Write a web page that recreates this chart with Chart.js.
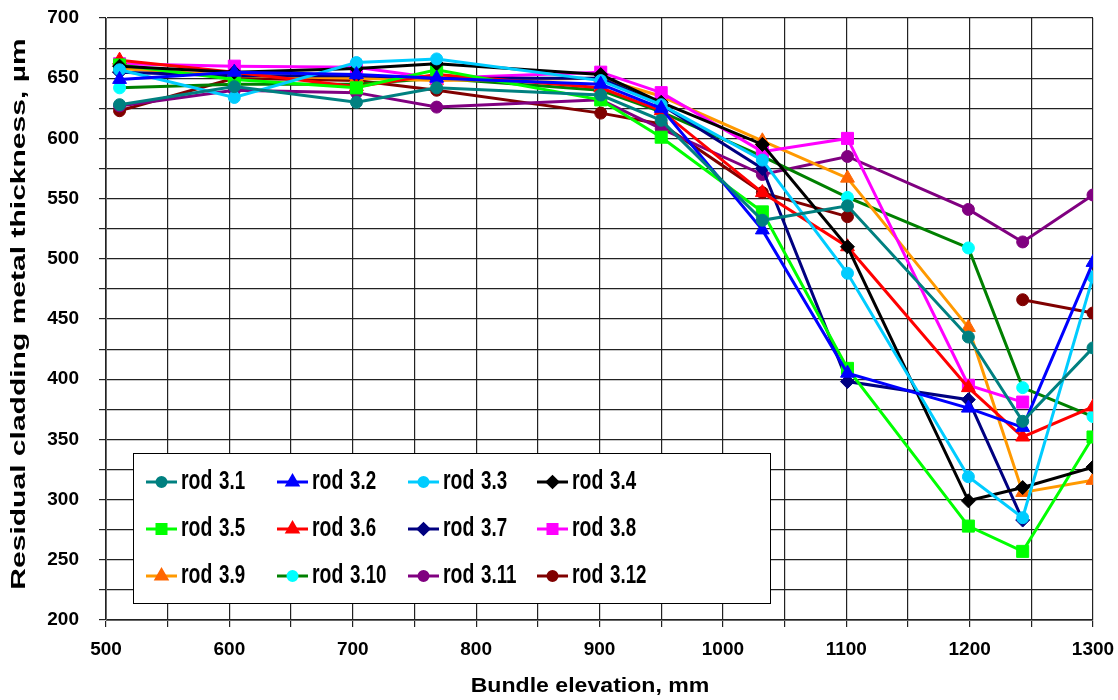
<!DOCTYPE html>
<html>
<head>
<meta charset="utf-8">
<script src="https://cdn.jsdelivr.net/npm/chart.js@4/dist/chart.umd.min.js"></script>
<style>
  html, body { margin: 0; padding: 0; background: #fff; }
  #wrap { width: 1118px; height: 700px; }
</style>
</head>
<body>
<div id="wrap"><canvas id="rodChart" width="1118" height="700"></canvas></div>
<script>
// Bundle elevations (mm) where the rods were measured
const elevations = [511, 604, 703, 768, 901, 950, 1032, 1101, 1199, 1243, 1300];

// Residual cladding metal thickness (um) per rod
const rod31 = [628, 643, 630, 642, 636, 615, 532, 544, 435, 365, 426];
const rod32 = [649, 655, 653, 650, 645, 625, 524, 405, 376, 360, 497];
const rod33 = [657, 634, 663, 666, 648, 628, 582, 488, 319, 285, 485];
const rod34 = [660, 655, 658, 662, 653, 630, 595, 510, 299, 310, 327];
const rod35 = [661, 649, 642, 657, 632, 601, 539, 409, 278, 257, 352];
const rod36 = [665, 655, 643, 653, 642, 623, 555, 510, 393, 352, 377];
const rod37 = [655, 652, 652, 650, 650, 628, 575, 398, 383, 283, null];
const rod38 = [662, 660, 659, 650, 655, 638, 589, 600, 395, 381, null];
const rod39 = [658, 652, 650, 648, 650, 635, 598, 567, 443, 306, 316];
const rod310 = [642, 645, 645, 650, 640, 622, 585, 551, 509, 393, 369];
const rod311 = [627, 640, 638, 626, 632, 608, 570, 585, 541, 514, 553];
const rod312 = [623, 650, 648, 640, 621, 612, 555, 535, null, 466, 455];

const rodNames = ["3.1", "3.2", "3.3", "3.4", "3.5", "3.6", "3.7", "3.8", "3.9", "3.10", "3.11", "3.12"];
const rodValues = [rod31, rod32, rod33, rod34, rod35, rod36, rod37, rod38, rod39, rod310, rod311, rod312];

// Axis tick labels
const xTickLabels = [500, 600, 700, 800, 900, 1000, 1100, 1200, 1300];
const yTickLabels = [200, 250, 300, 350, 400, 450, 500, 550, 600, 650, 700];

// line colour, marker colour, marker shape, marker radius
const styles = [
  ["#008080", "#008080", "circle", 6],
  ["#0000ff", "#0000ff", "triangle", 8],
  ["#00ccff", "#00ccff", "circle", 6],
  ["#000000", "#000000", "rectRot", 7],
  ["#00ff00", "#00ff00", "rect", 8.5],
  ["#ff0000", "#ff0000", "triangle", 8],
  ["#000080", "#000080", "rectRot", 7],
  ["#ff00ff", "#ff00ff", "rect", 8.5],
  ["#ff9900", "#ff6600", "triangle", 8],
  ["#008000", "#00ffff", "circle", 6],
  ["#800080", "#800080", "circle", 6],
  ["#800000", "#800000", "circle", 6],
];

const datasets = rodNames.map((name, i) => ({
  label: "rod " + name,
  data: rodValues[i].map((v, j) => ({ x: elevations[j], y: v })),
  borderColor: styles[i][0],
  backgroundColor: styles[i][1],
  pointBackgroundColor: styles[i][1],
  pointBorderColor: styles[i][1],
  pointStyle: styles[i][2],
  pointRadius: styles[i][3],
  pointBorderWidth: 1,
  borderWidth: 3,
  tension: 0,
  spanGaps: false,
}));

// draw text squeezed/stretched horizontally
function stretchedText(ctx, text, x, y, size, sx, angle, align) {
  ctx.save();
  ctx.translate(x, y);
  if (angle) ctx.rotate(angle);
  ctx.scale(sx, 1);
  ctx.font = "bold " + size + "px 'Liberation Sans', Arial, sans-serif";
  ctx.fillStyle = "#000";
  ctx.textAlign = align || "center";
  ctx.textBaseline = "middle";
  ctx.fillText(text, 0, 0);
  ctx.restore();
}

const decorPlugin = {
  id: "decor",
  afterDraw(chart) {
    const ctx = chart.ctx;
    // axis titles
    stretchedText(ctx, "Residual cladding metal thickness, \u00b5m", 19, 314, 21, 1.43, -Math.PI / 2);
    stretchedText(ctx, "Bundle elevation, mm", 590, 686, 21, 1.1, 0);

    // legend box inside the plot
    const bx = 133, by = 453, bw = 637, bh = 150;
    ctx.save();
    ctx.fillStyle = "#fff";
    ctx.fillRect(bx, by, bw, bh);
    ctx.strokeStyle = "#000";
    ctx.lineWidth = 1;
    ctx.strokeRect(bx + 0.5, by + 0.5, bw, bh);
    ctx.restore();

    const colX = [146, 277, 408, 537];
    const rowY = [482, 529, 576];
    rodNames.forEach((name, i) => {
      const cx = colX[i % 4], cy = rowY[Math.floor(i / 4)];
      const st = styles[i];
      ctx.save();
      ctx.strokeStyle = st[0];
      ctx.lineWidth = 3;
      ctx.beginPath();
      ctx.moveTo(cx, cy);
      ctx.lineTo(cx + 31, cy);
      ctx.stroke();
      ctx.fillStyle = st[1];
      ctx.strokeStyle = st[1];
      Chart.helpers.drawPoint(ctx, { pointStyle: st[2], radius: st[3] * 0.75, borderWidth: 1, rotation: 0 }, cx + 15.5, cy);
      ctx.restore();
      stretchedText(ctx, "rod", cx + 35, cy, 27, 0.72, 0, "left");
      stretchedText(ctx, name, cx + 73, cy, 25, 0.75, 0, "left");
    });
  },
};

new Chart(document.getElementById("rodChart"), {
  type: "line",
  data: { datasets: datasets },
  plugins: [decorPlugin],
  options: {
    responsive: false,
    animation: false,
    layout: { padding: { top: 18, right: 25, left: 0, bottom: 0 } },
    plugins: { legend: { display: false }, tooltip: { enabled: false } },
    scales: {
      x: {
        type: "linear",
        min: 500,
        max: 1300,
        afterBuildTicks(scale) {
          const t = [];
          for (let v = 500; v <= 1300; v += 50) t.push({ value: v });
          scale.ticks = t;
        },
        afterFit(scale) {
          scale.height = 80;
          scale.paddingLeft = 0;
          scale.paddingRight = 0;
        },
        ticks: {
          autoSkip: false,
          maxRotation: 0,
          padding: 11,
          color: "#000",
          font: { family: "'Liberation Sans', Arial, sans-serif", size: 19, weight: "bold" },
          callback: (v) => (xTickLabels.includes(v) ? String(v) : ""),
        },
        grid: { color: "#222", lineWidth: 1.2, tickLength: 7 },
        border: { color: "#666", width: 1 },
      },
      y: {
        min: 200,
        max: 700,
        afterBuildTicks(scale) {
          const t = [];
          for (let v = 200; v <= 700; v += 25) t.push({ value: v });
          scale.ticks = t;
        },
        afterFit(scale) {
          scale.width = 106;
          scale.paddingTop = 0;
          scale.paddingBottom = 0;
        },
        ticks: {
          autoSkip: false,
          padding: 20,
          color: "#000",
          font: { family: "'Liberation Sans', Arial, sans-serif", size: 19, weight: "bold" },
          callback: (v) => (yTickLabels.includes(v) ? String(v) : ""),
        },
        grid: { color: "#222", lineWidth: 1.2, tickLength: 7 },
        border: { color: "#666", width: 1 },
      },
    },
  },
});
</script>
</body>
</html>
